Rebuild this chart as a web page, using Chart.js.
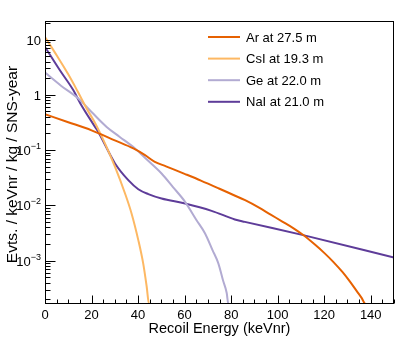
<!DOCTYPE html>
<html>
<head>
<meta charset="utf-8">
<script src="https://cdn.jsdelivr.net/npm/chart.js@4"></script>
<style>
  html, body { margin: 0; padding: 0; background: #ffffff; }
  #wrap { width: 411px; height: 338px; }
</style>
</head>
<body>
<div id="wrap"><canvas id="c" width="411" height="338"></canvas></div>
<script>
// ---------------- data ----------------
const seriesLabels = ['Ar at 27.5 m', 'CsI at 19.3 m', 'Ge at 22.0 m', 'NaI at 21.0 m'];
const seriesColors = ['#e66101', '#fdb863', '#b2abd2', '#5e3c99'];

const arEnergy = [0, 10, 20, 30, 38, 43, 47, 52, 60, 67, 75, 81, 86, 92, 97, 102, 107, 111, 116, 120, 124, 128, 131, 134, 136, 137.8, 150];
const arRate   = [0.446, 0.32, 0.228, 0.15, 0.107, 0.081, 0.062, 0.0509, 0.0372, 0.0281, 0.0200, 0.0154, 0.0124, 0.0091, 0.0068, 0.0051, 0.0038, 0.0029, 0.00195, 0.00138, 0.00094, 0.00061, 0.00042, 0.00028, 0.000214, 0.000164, 0.000164];

const csiEnergy = [0, 5, 10, 14, 18, 21.5, 25.8, 30.1, 34.4, 37.2, 40.1, 42.2, 43.7, 44.7, 46.5];
const csiRate   = [11.1, 5.2, 2.35, 1.16, 0.556, 0.31, 0.131, 0.0497, 0.0164, 0.00714, 0.00235, 0.00089, 0.00034, 0.000164, 0.000164];

const geEnergy = [0, 7, 14.3, 20, 26.5, 32, 38.7, 44, 50.1, 55, 60.2, 65, 68.8, 72, 74.5, 76.5, 78.1, 78.8, 86];
const geRate   = [2.53, 1.45, 0.857, 0.49, 0.263, 0.175, 0.107, 0.066, 0.0377, 0.0214, 0.0116, 0.0055, 0.0031, 0.00155, 0.00089, 0.00044, 0.00026, 0.000164, 0.000164];

const naiEnergy = [0, 6.4, 12.2, 15.2, 21.5, 22.9, 30.1, 35.8, 40.1, 44.4, 50.1, 60.2, 71.6, 81.6, 85.9, 111, 150];
const naiRate   = [7.35, 2.78, 1.21, 0.70, 0.263, 0.213, 0.0573, 0.0286, 0.0196, 0.016, 0.0133, 0.0108, 0.00796, 0.00556, 0.00503, 0.00289, 0.00114];

const xTickValues = [0, 20, 40, 60, 80, 100, 120, 140];
const xTickLabels = ['0', '20', '40', '60', '80', '100', '120', '140'];
const yTickValues = [0.001, 0.01, 0.1, 1, 10];
const yTickBases  = ['10', '10', '10', '1', '10'];
const yTickExps   = ['\u22123', '\u22122', '\u22121', '', ''];

const xTitle = 'Recoil Energy (keVnr)';
const yTitle = 'Evts. / keVnr / kg / SNS-year';
// ----------------------------------------------------------------

function pts(xs, ys) { return xs.map((x, i) => ({ x: x, y: ys[i] })); }
const energies = [arEnergy, csiEnergy, geEnergy, naiEnergy];
const rates = [arRate, csiRate, geRate, naiRate];

const FONT = '"Liberation Sans", Arial, Helvetica, sans-serif';

const rootStyle = {
  id: 'rootStyle',
  beforeDraw(chart) {
    const ctx = chart.ctx;
    ctx.save();
    ctx.fillStyle = '#ffffff';
    ctx.fillRect(0, 0, chart.width, chart.height);
    ctx.restore();
  },
  afterDraw(chart) {
    const ctx = chart.ctx;
    const a = chart.chartArea;
    const xs = chart.scales.x, ys = chart.scales.y;
    ctx.save();
    ctx.strokeStyle = '#000000';
    ctx.lineWidth = 1;
    // frame
    ctx.strokeRect(Math.round(a.left) + 0.5, Math.round(a.top) + 0.5,
                   Math.round(a.right - a.left) - 1, Math.round(a.bottom - a.top) - 1);
    const bot = Math.round(a.bottom) - 0.5;
    const lft = Math.round(a.left) + 0.5;
    // x ticks: every 5, major every 20
    ctx.beginPath();
    for (let v = xs.min; v <= xs.max + 1e-9; v += 5) {
      const px = Math.round(xs.getPixelForValue(v)) + 0.5;
      const len = (v % 20 === 0) ? 8 : 4;
      ctx.moveTo(px, bot);
      ctx.lineTo(px, bot - len);
    }
    // y ticks (log): major at decades, minor 2..9
    for (let e = -4; e <= 1; e++) {
      for (let m = 1; m <= 9; m++) {
        const v = m * Math.pow(10, e);
        if (v < ys.min || v > ys.max) continue;
        const py = Math.round(ys.getPixelForValue(v)) + 0.5;
        const len = (m === 1) ? 10 : 5;
        ctx.moveTo(lft, py);
        ctx.lineTo(lft + len, py);
      }
    }
    ctx.stroke();

    // x tick labels
    ctx.fillStyle = '#000000';
    ctx.font = '13px ' + FONT;
    ctx.textAlign = 'center';
    ctx.textBaseline = 'alphabetic';
    xTickValues.forEach((v, i) => {
      ctx.fillText(xTickLabels[i], xs.getPixelForValue(v), a.bottom + 15);
    });
    // y tick labels with superscripts
    yTickValues.forEach((v, i) => {
      const py = ys.getPixelForValue(v);
      const rightEdge = a.left - 4;
      ctx.font = '9px ' + FONT;
      const ew = yTickExps[i] ? ctx.measureText(yTickExps[i]).width : 0;
      ctx.textAlign = 'right';
      ctx.textBaseline = 'alphabetic';
      if (yTickExps[i]) ctx.fillText(yTickExps[i], rightEdge, py - 1);
      ctx.font = '13px ' + FONT;
      ctx.fillText(yTickBases[i], rightEdge - ew, py + 5);
    });
    // axis titles
    ctx.font = '14.5px ' + FONT;
    ctx.textAlign = 'center';
    ctx.fillText(xTitle, (a.left + a.right) / 2, a.bottom + 29);
    ctx.save();
    ctx.translate(17, (a.top + a.bottom) / 2 + 2);
    ctx.rotate(-Math.PI / 2);
    ctx.font = '15.5px ' + FONT;
    ctx.textAlign = 'center';
    ctx.textBaseline = 'alphabetic';
    ctx.fillText(yTitle, 0, 0);
    ctx.restore();

    // legend
    const lx0 = 208, lx1 = 240, tx = 246, ly0 = 37, dy = 21.6;
    chart.data.datasets.forEach((ds, i) => {
      const y = ly0 + i * dy;
      ctx.strokeStyle = ds.borderColor;
      ctx.lineWidth = 2;
      ctx.beginPath();
      ctx.moveTo(lx0, y);
      ctx.lineTo(lx1, y);
      ctx.stroke();
      ctx.fillStyle = '#000000';
      ctx.font = '13px ' + FONT;
      ctx.textAlign = 'left';
      ctx.textBaseline = 'middle';
      ctx.fillText(ds.label, tx, y + 1);
    });
    ctx.restore();
  }
};

new Chart(document.getElementById('c'), {
  type: 'line',
  data: {
    datasets: seriesLabels.map((lab, i) => ({
      label: lab,
      data: pts(energies[i], rates[i]),
      borderColor: seriesColors[i],
      backgroundColor: seriesColors[i],
      borderWidth: 2,
      pointRadius: 0,
      fill: false,
      cubicInterpolationMode: 'monotone'
    }))
  },
  options: {
    responsive: false,
    devicePixelRatio: 1,
    animation: false,
    layout: { padding: { left: 45, right: 17, top: 21, bottom: 34 } },
    plugins: { legend: { display: false }, tooltip: { enabled: false } },
    scales: {
      x: { type: 'linear', min: 0, max: 150, display: false },
      y: { type: 'logarithmic', min: 0.000164, max: 21.7, display: false }
    }
  },
  plugins: [rootStyle]
});
</script>
</body>
</html>
